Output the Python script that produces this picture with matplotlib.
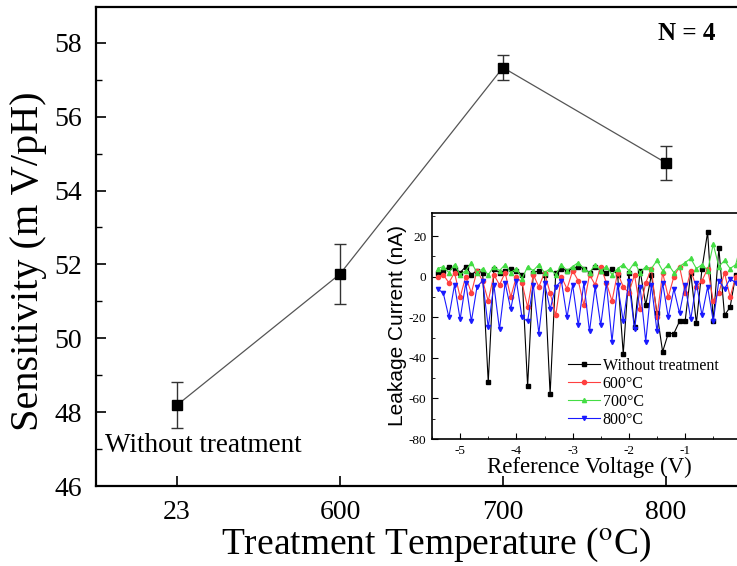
import numpy as np
import matplotlib
matplotlib.use('Agg')
import matplotlib.pyplot as plt

plt.rcParams['font.family'] = 'Liberation Serif'
plt.rcParams['mathtext.fontset'] = 'stix'
plt.rcParams['axes.unicode_minus'] = False

# main plot data
temps = ['23', '600', '700', '800']
sens = [48.19, 51.74, 57.33, 54.75]
sens_err = [0.62, 0.8, 0.35, 0.46]

# inset data: leakage current (nA) vs reference voltage (V)
voltage = np.round(np.arange(-5.4, 0.05, 0.1), 2)
leak_none = [2, 3, 5, 4, 2, 5, 1, 3, 2, -52, 4,
             2, 3, 4, 3, 1, -54, 2, 3, 1, -58,
             2, 4, 3, 4, 5, 4, 2, 5, 3, 2,
             4, 1, -38, 2, -25, 3, -14, 1, -18, -37,
             -28, -28, -22, -22, 2, -23, 4, 22, -22, 14,
             -19, -15, 1, 2]
leak_600 = [0, 1, -3, 2, -10, 0, -8, 3, -2, -12, 1,
            -4, 2, -10, 0, -3, -15, 1, -5, 2, -8,
            -19, 0, -6, 3, -2, -14, 1, -4, 5, -3,
            -12, 2, -5, -8, 1, -16, -3, 4, -20, 2,
            -10, 0, 5, -8, 3, -5, -2, 4, -12, -8,
            2, -10, 0, -7]
leak_700 = [4, 5, 2, 6, 1, 3, 7, 2, 4, 1, 5,
            3, 6, 2, 4, -1, 5, 3, 6, 2, 4,
            1, 6, 3, 5, 7, 4, 2, 6, 3, 5,
            1, 4, 6, 3, 7, 2, 5, 4, 8, 3,
            6, 2, 5, 7, 9, 4, 6, 3, 16, 5,
            8, 4, 6, 17]
leak_800 = [-6, -8, -20, -4, -21, -3, -22, -5, -2, -25, -4,
            -26, -3, -16, -2, -20, -22, -4, -28, -3, -16,
            -5, -2, -20, -4, -24, -3, -27, -5, -24, -3,
            -32, -4, -22, -2, -26, -5, -32, -4, -27, -3,
            -20, -6, -18, -4, -21, -3, -19, -5, -22, -2,
            -6, -1, -3, 1]

fig = plt.figure(figsize=(7.37, 5.66), dpi=100)
W, H = 737, 566

ax = fig.add_axes([96/W, (H-486)/H, 641/W, 479/H])
x = np.arange(len(temps))
ax.errorbar(x, sens, yerr=sens_err, color='#555555', lw=0.9, marker='s', ms=7,
            mfc='black', mec='black', ecolor='#333333', elinewidth=1, capsize=4, capthick=1)
ax.set_xlim(-0.497, 3.436)
ax.set_ylim(46, 58.97)
ax.set_xticks(x)
ax.set_xticklabels(temps)
ax.set_yticks([46, 48, 50, 52, 54, 56, 58])
ax.set_yticks([47, 49, 51, 53, 55, 57], minor=True)
ax.tick_params(direction='in', labelsize=20, length=7, width=1.2, pad=10)
ax.tick_params(which='minor', direction='in', length=4, width=1)
ax.tick_params(axis='x', pad=10)
ax.spines['right'].set_visible(False)
for s in ['left', 'top', 'bottom']:
    ax.spines[s].set_linewidth(1.6)
ax.set_ylabel('Sensitivity (m V/pH)', fontsize=29)
ax.yaxis.set_label_coords(-0.076, 0.47)
ax.set_xlabel(r'Treatment Temperature ($^{\mathrm{o}}$C)', fontsize=27)
ax.xaxis.set_label_coords(0.53, -0.084)
ax.text(9/641, (486-452)/479, 'Without treatment', transform=ax.transAxes, fontsize=19.5,
        va='baseline')
ax.text((687-96)/641, (486-33)/479, 'N = 4', transform=ax.transAxes, fontsize=18,
        fontweight='bold', ha='center', va='center')

# inset
ins = fig.add_axes([432/W, (H-439)/H, 315/W, 226/H])
ins.plot(voltage, leak_none, '-s', color='black', lw=0.8, ms=3, label='Without treatment')
ins.plot(voltage, leak_600, '-o', color='#ff4040', lw=0.8, ms=3, label='600°C')
ins.plot(voltage, leak_700, '-^', color='#44dd44', lw=0.8, ms=3, label='700°C')
ins.plot(voltage, leak_800, '-v', color='#1a1aff', lw=0.8, ms=3, label='800°C')
ins.set_xlim(-5.5, 0.1)
ins.set_ylim(-80, 31.4)
ins.set_xticks([-5, -4, -3, -2, -1, 0])
ins.set_xticks([-5.5, -4.5, -3.5, -2.5, -1.5, -0.5], minor=True)
ins.set_yticks([-80, -60, -40, -20, 0, 20])
ins.set_yticks([-70, -50, -30, -10, 10, 30], minor=True)
ins.tick_params(direction='in', labelsize=9.5, length=4, width=0.8, pad=4)
ins.tick_params(which='minor', direction='in', length=2, width=0.6)
for s in ins.spines.values():
    s.set_linewidth(1.2)
ins.set_ylabel('Leakage Current (nA)', fontsize=15, family='Liberation Sans', labelpad=1)
ins.set_xlabel('Reference Voltage (V)', fontsize=16.5, labelpad=0)
ins.legend(loc='lower left', bbox_to_anchor=(0.395, 0.0), frameon=False, fontsize=11.5,
           handlelength=2, handletextpad=0.2, labelspacing=0.12, borderpad=0.2)

fig.savefig('out.png', dpi=100)
